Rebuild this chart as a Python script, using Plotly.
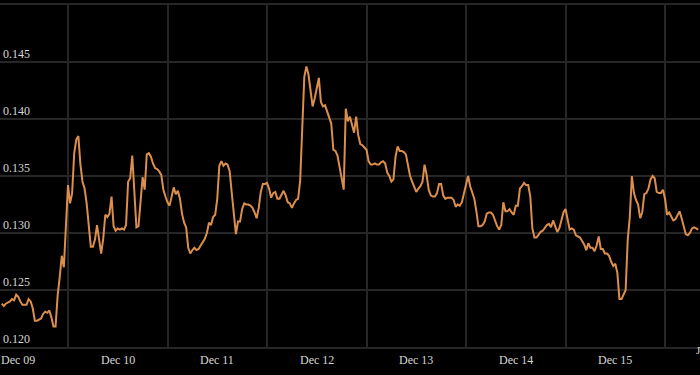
import pandas as pd
import plotly.graph_objects as go

# half-hourly samples starting Dec 09 08:00
start_time = "2023-12-09 08:00"
step = "30min"
values = [
    .1238, .1236, .1238, .1239, .1240, .1242, .1241, .1246, .1244, .1240,
    .1237, .1237, .1237, .1242, .1240, .1234, .1223, .1223, .1224, .1225,
    .1229, .1231, .1230, .1232, .1226, .1218, .1218, .1245, .1261, .1280,
    .1270, .1302, .1342, .1326, .1335, .1370, .1382, .1385, .1360, .1345,
    .1339, .1326, .1309, .1288, .1288, .1294, .1307, .1295, .1282, .1295,
    .1316, .1314, .1317, .1332, .1306, .1302, .1304, .1303, .1304, .1303,
    .1307, .1345, .1348, .1368, .1338, .1305, .1306, .1331, .1349, .1338,
    .1369, .1370, .1367, .1361, .1357, .1356, .1354, .1351, .1338, .1332,
    .1327, .1324, .1332, .1340, .1334, .1337, .1330, .1317, .1309, .1305,
    .1287, .1282, .1285, .1287, .1285, .1286, .1289, .1292, .1295, .1300,
    .1309, .1307, .1314, .1316, .1330, .1359, .1363, .1359, .1361, .1360,
    .1354, .1335, .1314, .1299, .1310, .1310, .1321, .1326, .1325, .1325,
    .1324, .1322, .1318, .1313, .1322, .1336, .1343, .1343, .1344, .1339,
    .1331, .1335, .1336, .1330, .1330, .1333, .1337, .1333, .1327, .1326,
    .1322, .1326, .1329, .1330, .1346, .1392, .1437, .1446, .1439, .1425,
    .1411, .1418, .1426, .1436, .1415, .1411, .1412, .1407, .1401, .1396,
    .1373, .1372, .1368, .1358, .1345, .1338, .1409, .1398, .1402, .1395,
    .1388, .1402, .1386, .1378, .1377, .1375, .1373, .1363, .1360, .1360,
    .1361, .1360, .1360, .1362, .1363, .1361, .1353, .1350, .1345, .1347,
    .1367, .1376, .1372, .1372, .1371, .1369, .1359, .1350, .1345, .1341,
    .1336, .1339, .1341, .1345, .1360, .1351, .1338, .1333, .1332, .1332,
    .1335, .1343, .1343, .1333, .1330, .1331, .1331, .1331, .1329, .1323,
    .1325, .1324, .1327, .1334, .1343, .1350, .1341, .1336, .1330, .1319,
    .1306, .1306, .1307, .1310, .1317, .1318, .1318, .1316, .1311, .1306,
    .1303, .1307, .1327, .1319, .1319, .1321, .1318, .1316, .1324, .1324,
    .1339, .1341, .1344, .1342, .1342, .1332, .1304, .1296, .1296, .1299,
    .1301, .1302, .1305, .1307, .1308, .1305, .1311, .1306, .1301, .1304,
    .1310, .1318, .1321, .1311, .1303, .1304, .1303, .1298, .1297, .1296,
    .1293, .1290, .1285, .1291, .1287, .1287, .1284, .1289, .1297, .1286,
    .1286, .1282, .1282, .1280, .1275, .1271, .1273, .1265, .1242, .1242,
    .1246, .1250, .1294, .1314, .1350, .1335, .1329, .1325, .1313, .1318,
    .1334, .1335, .1339, .1347, .1350, .1348, .1336, .1335, .1335, .1338,
    .1330, .1316, .1318, .1314, .1311, .1312, .1315, .1319, .1313, .1307,
    .1299, .1298, .1300, .1304, .1305, .1304, .1303,
]
times = pd.date_range(start=start_time, periods=len(values), freq=step)

# day labels centred on noon, gridlines at midnight
label_times = pd.date_range("2023-12-09 12:00", periods=7, freq="1D")
label_text = ["Dec 09", "Dec 10", "Dec 11", "Dec 12", "Dec 13", "Dec 14", "Dec 15"]
grid_times = pd.date_range("2023-12-10 00:00", periods=7, freq="1D")

x_range = ["2023-12-09 07:36", "2023-12-16 08:26"]
y_range = [0.120, 0.150]
y_ticks = [0.120, 0.125, 0.130, 0.135, 0.140, 0.145]
y_text = ["0.120", "0.125", "0.130", "0.135", "0.140", "0.145"]

font = dict(family="Liberation Serif, Times New Roman, serif", size=12, color="#d6d6d6")
grid = "#262626"

fig = go.Figure()
fig.add_trace(go.Scatter(
    x=times, y=values, mode="lines",
    line=dict(color="#dc8e4c", width=2),
    hoverinfo="skip",
))

annotations = [
    dict(text=t, x=lt, xref="x", yref="paper", y=-0.038,
         xanchor="center", yanchor="middle", showarrow=False, font=font)
    for lt, t in zip(label_times, label_text)
]
annotations.append(dict(
    text="J", xref="paper", yref="paper", x=694 / 700, y=-0.01,
    xanchor="left", yanchor="middle", showarrow=False,
    font=dict(family="Liberation Serif, serif", size=11, color="#d6d6d6"),
))

fig.update_layout(
    width=700, height=375,
    margin=dict(l=0, r=0, t=5, b=28, autoexpand=False),
    paper_bgcolor="#000000", plot_bgcolor="#000000",
    showlegend=False,
    font=font,
    xaxis=dict(
        type="date", range=x_range,
        tickvals=grid_times, showticklabels=False,
        showgrid=True, gridcolor=grid, gridwidth=1.5,
        zeroline=False, ticks="",
        showline=True, mirror=True, linecolor=grid, linewidth=1.5,
        automargin=False,
    ),
    yaxis=dict(
        range=y_range, tickvals=y_ticks, ticktext=y_text,
        ticklabelposition="inside top",
        showgrid=True, gridcolor=grid, gridwidth=1.5,
        zeroline=False, showline=False, ticks="",
        tickfont=font, automargin=False,
    ),
    annotations=annotations,
)

fig.write_html("out.html")
